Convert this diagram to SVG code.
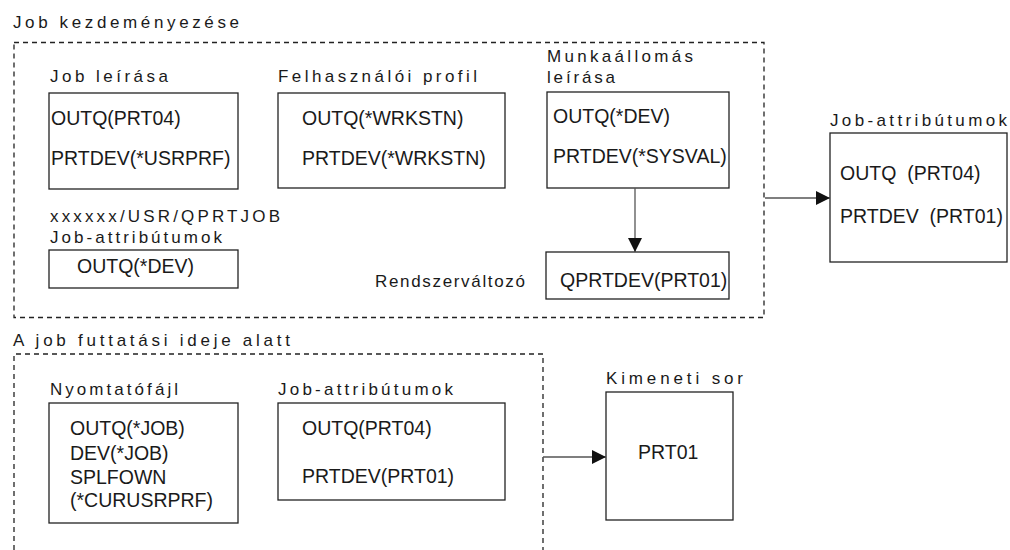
<svg xmlns="http://www.w3.org/2000/svg" width="1010" height="550" viewBox="0 0 1010 550">
<defs>
<style>
.lbl{font-family:"Liberation Sans",Arial,sans-serif;font-size:17px;fill:#1a1a1a}
.ttl{font-family:"Liberation Sans",Arial,sans-serif;font-size:17px;fill:#1a1a1a}
.t{font-family:"Liberation Sans",Arial,sans-serif;font-size:19.5px;fill:#1a1a1a}
.box{fill:#fff;stroke:#222;stroke-width:1.3}
.dash{fill:none;stroke:#222;stroke-width:1.3;stroke-dasharray:5 4}
.conn{fill:none;stroke:#555;stroke-width:1.3}
</style>
<marker id="ah" markerUnits="userSpaceOnUse" markerWidth="15" markerHeight="14" refX="14" refY="7" orient="auto">
<path d="M0,0 L14,7 L0,14 z" fill="#111"/>
</marker>
</defs>
<rect width="1010" height="550" fill="#fff"/>

<g id="group-initiation">
<text class="ttl" x="13" y="28" textLength="226" lengthAdjust="spacing">Job kezdeményezése</text>
<rect class="dash" x="14" y="42.5" width="750" height="275"/>
</g>

<g id="group-runtime">
<text class="ttl" x="13" y="346" textLength="277" lengthAdjust="spacing">A job futtatási ideje alatt</text>
<path class="dash" d="M14,550 L14,354 L543,354 L543,550"/>
</g>

<g id="node-job-description">
<text class="lbl" x="50" y="82" textLength="118" lengthAdjust="spacing">Job leírása</text>
<rect class="box" x="49" y="93" width="189" height="96"/>
<text class="t" x="51" y="125">OUTQ(PRT04)</text>
<text class="t" x="51" y="165">PRTDEV(*USRPRF)</text>
</g>

<g id="node-user-profile">
<text class="lbl" x="278" y="82" textLength="199" lengthAdjust="spacing">Felhasználói profil</text>
<rect class="box" x="278" y="93" width="227" height="95"/>
<text class="t" x="302" y="125">OUTQ(*WRKSTN)</text>
<text class="t" x="302" y="165">PRTDEV(*WRKSTN)</text>
</g>

<g id="node-workstation">
<text class="lbl" x="547" y="62" textLength="146" lengthAdjust="spacing">Munkaállomás</text>
<text class="lbl" x="547" y="83" textLength="68" lengthAdjust="spacing">leírása</text>
<rect class="box" x="547" y="92" width="182" height="96"/>
<text class="t" x="553" y="123">OUTQ(*DEV)</text>
<text class="t" x="553" y="163">PRTDEV(*SYSVAL)</text>
</g>

<g id="node-qprtjob">
<text class="lbl" x="50" y="222" textLength="230" lengthAdjust="spacing">xxxxxx/USR/QPRTJOB</text>
<text class="lbl" x="50" y="243" textLength="172" lengthAdjust="spacing">Job-attribútumok</text>
<rect class="box" x="49" y="250" width="189" height="38"/>
<text class="t" x="77" y="273">OUTQ(*DEV)</text>
</g>

<g id="node-sysval">
<text class="lbl" x="375" y="287" textLength="150" lengthAdjust="spacing">Rendszerváltozó</text>
<rect class="box" x="546" y="252" width="183" height="47"/>
<text class="t" x="560" y="287">QPRTDEV(PRT01)</text>
</g>

<g id="node-job-attributes-result">
<text class="lbl" x="830" y="126" textLength="177" lengthAdjust="spacing">Job-attribútumok</text>
<rect class="box" x="830" y="133" width="177" height="129"/>
<text class="t" x="840" y="180" xml:space="preserve">OUTQ  (PRT04)</text>
<text class="t" x="840" y="223" xml:space="preserve">PRTDEV  (PRT01)</text>
</g>

<g id="node-printer-file">
<text class="lbl" x="50" y="395" textLength="128" lengthAdjust="spacing">Nyomtatófájl</text>
<rect class="box" x="49" y="403" width="189" height="120"/>
<text class="t" x="70" y="435">OUTQ(*JOB)</text>
<text class="t" x="70" y="460">DEV(*JOB)</text>
<text class="t" x="70" y="484">SPLFOWN</text>
<text class="t" x="70" y="507">(*CURUSRPRF)</text>
</g>

<g id="node-job-attributes-runtime">
<text class="lbl" x="278" y="395" textLength="175" lengthAdjust="spacing">Job-attribútumok</text>
<rect class="box" x="278" y="403" width="227" height="97"/>
<text class="t" x="302" y="435">OUTQ(PRT04)</text>
<text class="t" x="302" y="483">PRTDEV(PRT01)</text>
</g>

<g id="node-output-queue">
<text class="lbl" x="606" y="384" textLength="137" lengthAdjust="spacing">Kimeneti sor</text>
<rect class="box" x="606" y="392" width="127" height="128"/>
<text class="t" x="638" y="459">PRT01</text>
</g>

<g id="connectors">
<path class="conn" d="M635,188 L635,252" marker-end="url(#ah)"/>
<path class="conn" d="M765,198 L830,198" marker-end="url(#ah)"/>
<path class="conn" d="M543,457 L606,457" marker-end="url(#ah)"/>
</g>
</svg>
